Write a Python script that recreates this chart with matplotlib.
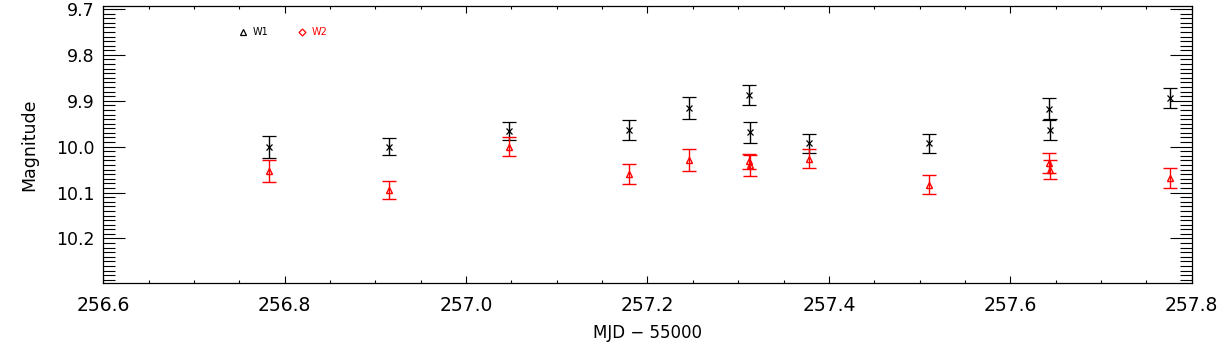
import matplotlib
matplotlib.use("Agg")
import matplotlib.pyplot as plt
from matplotlib.lines import Line2D
from matplotlib.ticker import MultipleLocator, FormatStrFormatter

# W1 / W2 light curve, MJD - 55000
mjd_w1 = [256.7828, 256.9152, 257.0475, 257.1799, 257.2461, 257.3121,
          257.3125, 257.3785, 257.5108, 257.6430, 257.6434, 257.7756]
mag_w1 = [10.000, 10.000, 9.966, 9.964, 9.916, 9.888,
          9.969, 9.993, 9.993, 9.918, 9.963, 9.894]
err_w1 = [0.024, 0.0185, 0.020, 0.022, 0.024, 0.022,
          0.022, 0.020, 0.020, 0.024, 0.023, 0.022]

mjd_w2 = [256.7828, 256.9152, 257.0475, 257.1799, 257.2461, 257.3121,
          257.3125, 257.3785, 257.5108, 257.6430, 257.6434, 257.7756]
mag_w2 = [10.053, 10.095, 10.000, 10.060, 10.028, 10.032,
          10.041, 10.026, 10.083, 10.036, 10.050, 10.069]
err_w2 = [0.024, 0.020, 0.021, 0.022, 0.024, 0.017,
          0.022, 0.021, 0.021, 0.022, 0.021, 0.022]

legend_labels = ["W1", "W2"]

plt.rcParams['font.family'] = ['DejaVu Sans']

fig = plt.figure(figsize=(12.27, 3.5), dpi=100)
ax = fig.add_axes([0.0842, 0.1914, 0.887, 0.7915])

ax.errorbar(mjd_w1, mag_w1, yerr=err_w1, fmt='x', color='black', ms=4.5, mew=0.9,
            elinewidth=1.0, capsize=4.7, capthick=1.0)
ax.errorbar(mjd_w2, mag_w2, yerr=err_w2, fmt='^', color='red', ms=5, mew=1.0,
            fillstyle='none', elinewidth=1.0, capsize=4.7, capthick=1.0)

ax.set_xlim(256.6, 257.8)
ax.set_ylim(10.297, 9.6935)

ax.xaxis.set_major_locator(MultipleLocator(0.2))
ax.xaxis.set_minor_locator(MultipleLocator(0.05))
ax.yaxis.set_major_locator(MultipleLocator(0.1))
ax.yaxis.set_minor_locator(MultipleLocator(0.01))
ax.xaxis.set_major_formatter(FormatStrFormatter('%.1f'))
ax.yaxis.set_major_formatter(FormatStrFormatter('%.1f'))

ax.tick_params(axis='x', which='both', direction='in', top=True, bottom=True, width=0.8)
ax.tick_params(axis='x', which='major', length=4.7, labelsize=13.5, pad=9)
ax.tick_params(axis='x', which='minor', length=2.2)
ax.tick_params(axis='y', which='both', direction='in', left=True, right=True, width=0.8)
ax.tick_params(axis='y', which='major', length=16, labelsize=12.5, pad=6)
ax.tick_params(axis='y', which='minor', length=8.5)
for s in ax.spines.values():
    s.set_linewidth(0.9)

ax.set_xlabel("MJD \u2212 55000", fontsize=12, labelpad=7)
ax.set_ylabel("Magnitude", fontsize=12.5, labelpad=13)

handles = [Line2D([], [], ls='none', marker='^', color='black', fillstyle='none', ms=4, mew=0.9),
           Line2D([], [], ls='none', marker='D', color='red', fillstyle='none', ms=3.5, mew=0.9)]
ax.legend(handles, legend_labels, loc='upper left', bbox_to_anchor=(0.117, 0.955),
          ncol=2, frameon=False, fontsize=7, handlelength=0.8, handletextpad=0.6,
          columnspacing=3.0, labelcolor=['black', 'red'])

fig.savefig("out.png", dpi=100)
